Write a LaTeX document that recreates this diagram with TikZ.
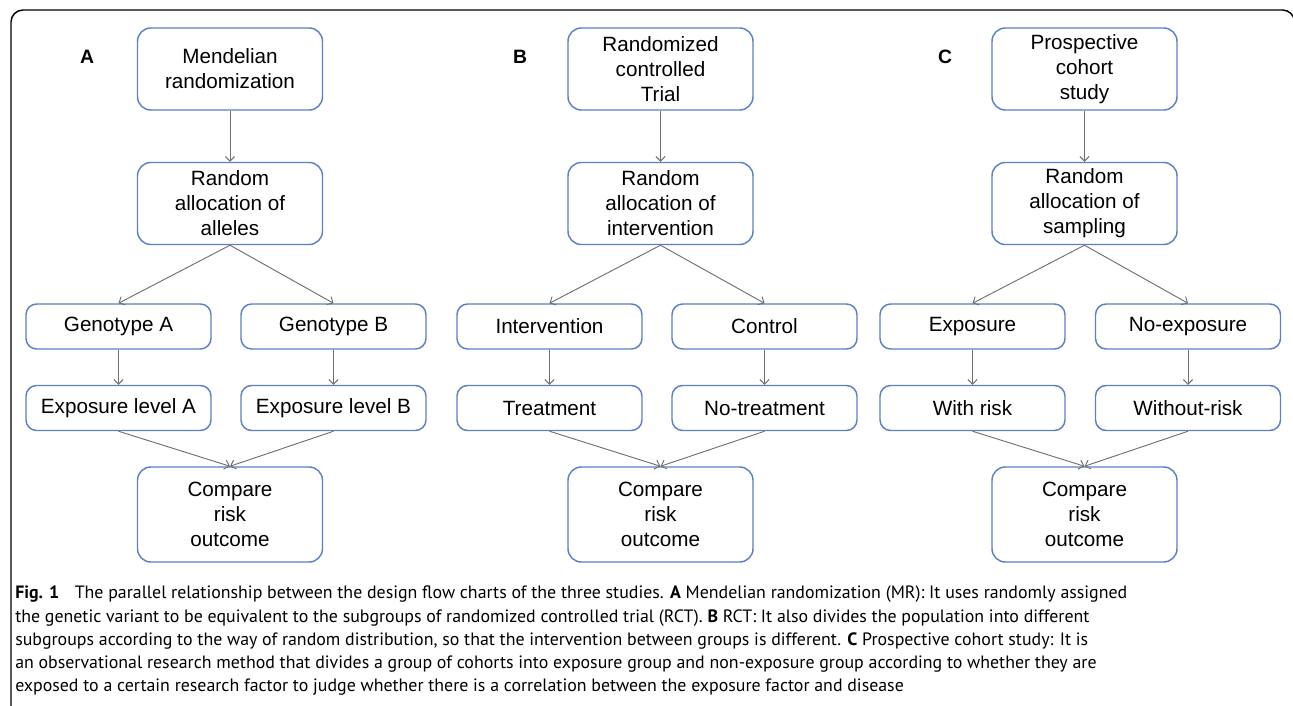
\documentclass[tikz,border=0pt]{standalone}
\usepackage{fontspec}
\setmainfont{Liberation Sans}
\newfontfamily\capfont{PT Sans}
\usepackage{tikz}
\usetikzlibrary{arrows.meta}
\usepackage{xcolor}
\definecolor{boxblue}{RGB}{92,128,200}
\definecolor{linkgray}{RGB}{112,112,112}

\tikzset{
  box/.style={draw=boxblue, line width=1.1pt, rounded corners=10pt, align=center,
    font=\fontsize{15.5}{18.75}\selectfont, minimum width=138.75pt, inner sep=0pt},
  tallbox/.style={box, minimum height=61.5pt},
  flatbox/.style={box, minimum height=33.75pt, rounded corners=8pt},
  endbox/.style={box, minimum height=71.25pt},
  link/.style={draw=linkgray, line width=0.7pt, -{Straight Barb[length=3.5pt,width=7pt]}},
  panel/.style={font=\fontsize{14.5}{16}\selectfont\bfseries}
}

\begin{document}
\begin{tikzpicture}[x=0.75pt,y=-0.75pt]
\useasboundingbox (0,0) rectangle (1293,706);
\begin{scope}
\clip (0,0) rectangle (1293,706);
\draw[line width=1.1pt, rounded corners=9pt] (11,10) rectangle (1294.5,730);
\end{scope}

% A: Mendelian randomization
\node[panel] (labA) at (87,57) {A};
\node[tallbox] (mrTop) at (230,69) {Mendelian\\randomization};
\node[tallbox] (mrAlloc) at (230,203.5) {Random\\allocation of\\alleles};
\node[flatbox] (genoA) at (118.5,326.5) {Genotype A};
\node[flatbox] (genoB) at (333.5,326.5) {Genotype B};
\node[flatbox] (expA) at (118.5,408) {Exposure level A};
\node[flatbox] (expB) at (333.5,408) {Exposure level B};
\node[endbox] (mrComp) at (230,514.5) {Compare\\risk\\outcome};
\draw[link] (mrTop.south) -- (mrAlloc.north);
\draw[link] (mrAlloc.south) -- (genoA.north);
\draw[link] (mrAlloc.south) -- (genoB.north);
\draw[link] (genoA.south) -- (expA.north);
\draw[link] (genoB.south) -- (expB.north);
\draw[link] (expA.south) -- (mrComp.north);
\draw[link] (expB.south) -- (mrComp.north);

% B: randomized controlled trial
\node[panel] (labB) at (520,57) {B};
\node[tallbox] (rctTop) at (660.5,69) {Randomized\\controlled\\Trial};
\node[tallbox] (rctAlloc) at (660.5,203.5) {Random\\allocation of\\intervention};
\node[flatbox] (interv) at (549.5,326.5) {Intervention};
\node[flatbox] (ctrl) at (764.5,326.5) {Control};
\node[flatbox] (treat) at (549.5,408) {Treatment};
\node[flatbox] (notreat) at (764.5,408) {No-treatment};
\node[endbox] (rctComp) at (660.5,514.5) {Compare\\risk\\outcome};
\draw[link] (rctTop.south) -- (rctAlloc.north);
\draw[link] (rctAlloc.south) -- (interv.north);
\draw[link] (rctAlloc.south) -- (ctrl.north);
\draw[link] (interv.south) -- (treat.north);
\draw[link] (ctrl.south) -- (notreat.north);
\draw[link] (treat.south) -- (rctComp.north);
\draw[link] (notreat.south) -- (rctComp.north);

% C: prospective cohort study
\node[panel] (labC) at (945,57) {C};
\node[tallbox] (pcsTop) at (1084.5,69) {Prospective\\cohort\\study};
\node[tallbox] (pcsAlloc) at (1084.5,203.5) {Random\\allocation of\\sampling};
\node[flatbox] (expo) at (972.5,326.5) {Exposure};
\node[flatbox] (noexpo) at (1188,326.5) {No-exposure};
\node[flatbox] (withrisk) at (972.5,408) {With risk};
\node[flatbox] (norisk) at (1188,408) {Without-risk};
\node[endbox] (pcsComp) at (1084.5,514.5) {Compare\\risk\\outcome};
\draw[link] (pcsTop.south) -- (pcsAlloc.north);
\draw[link] (pcsAlloc.south) -- (expo.north);
\draw[link] (pcsAlloc.south) -- (noexpo.north);
\draw[link] (expo.south) -- (withrisk.north);
\draw[link] (noexpo.south) -- (norisk.north);
\draw[link] (withrisk.south) -- (pcsComp.north);
\draw[link] (norisk.south) -- (pcsComp.north);

% caption
\node[anchor=north west, align=left, inner sep=0pt,
  font=\capfont\fontsize{13.4}{17.4}\selectfont] (caption) at (15,586)
  {\textbf{Fig. 1}\hspace{0.6em} The parallel relationship between the design flow charts of the three studies. \textbf{A} Mendelian randomization (MR): It uses randomly assigned\\
  the genetic variant to be equivalent to the subgroups of randomized controlled trial (RCT). \textbf{B} RCT: It also divides the population into different\\
  subgroups according to the way of random distribution, so that the intervention between groups is different. \textbf{C} Prospective cohort study: It is\\
  an observational research method that divides a group of cohorts into exposure group and non-exposure group according to whether they are\\
  exposed to a certain research factor to judge whether there is a correlation between the exposure factor and disease};
\end{tikzpicture}
\end{document}
